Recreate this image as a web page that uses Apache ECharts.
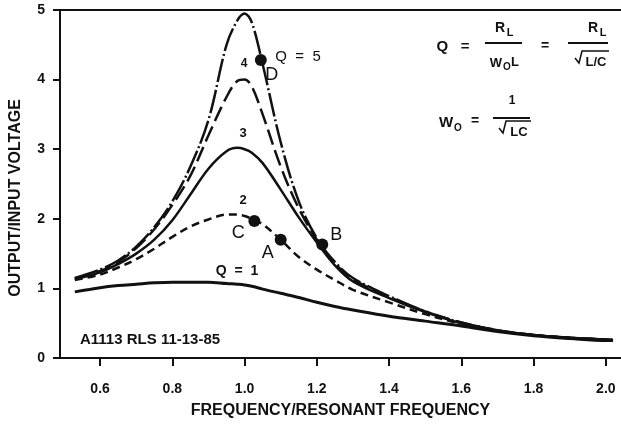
<!DOCTYPE html>
<html><head><meta charset="utf-8">
<script src="https://cdn.jsdelivr.net/npm/echarts@6/dist/echarts.min.js"></script>
<style>html,body{margin:0;padding:0;background:#fff}#c{width:621px;height:427px}</style>
</head><body><div id="c"></div>
<script>
const freq = [0.53,0.6,0.65,0.7,0.75,0.8,0.85,0.9,0.95,0.98,1.0,1.02,1.05,1.1,1.15,1.2,1.25,1.3,1.4,1.5,1.6,1.7,1.8,1.9,2.0,2.02];
const q1 = [0.95,1.01,1.04,1.06,1.08,1.09,1.09,1.09,1.07,1.06,1.05,1.03,0.99,0.93,0.87,0.80,0.74,0.69,0.60,0.53,0.46,0.38,0.32,0.28,0.25,0.25];
const q2 = [1.12,1.20,1.30,1.42,1.57,1.74,1.89,1.99,2.06,2.06,2.04,2.00,1.92,1.70,1.45,1.27,1.12,0.98,0.80,0.63,0.49,0.39,0.33,0.29,0.265,0.26];
const q3 = [1.13,1.23,1.35,1.50,1.70,1.98,2.35,2.72,2.97,3.02,3.00,2.95,2.80,2.42,2.02,1.66,1.33,1.10,0.86,0.66,0.50,0.39,0.33,0.29,0.265,0.26];
const q4 = [1.14,1.25,1.38,1.58,1.85,2.20,2.62,3.20,3.75,3.98,4.00,3.90,3.50,2.75,2.15,1.70,1.36,1.13,0.88,0.67,0.51,0.40,0.33,0.29,0.265,0.26];
const q5 = [1.15,1.27,1.40,1.60,1.88,2.25,2.75,3.42,4.50,4.85,4.95,4.82,4.22,3.10,2.25,1.72,1.38,1.15,0.89,0.67,0.51,0.40,0.33,0.29,0.265,0.26];
const pointNames = ['C','A','B','D'];
const pointX = [1.027,1.10,1.215,1.045];
const pointY = [1.97,1.70,1.63,4.28];
const xTicks = [0.6,0.8,1.0,1.2,1.4,1.6,1.8,2.0];
const yTicks = [0,1,2,3,4,5];

const FONT = '"Liberation Sans", Arial, Helvetica, sans-serif';
const INK = '#111';
const pair = (ys) => freq.map((x,i)=>[x,ys[i]]);
const lineS = (name, ys, type, w) => ({
  name, type:'line', data: pair(ys), smooth: 0.35, showSymbol:false, symbol:'none',
  lineStyle:{color:INK, width:w, type:type}, z:3, silent:true
});
const labelOffsets = {C:[-16,12], A:[-13,13], B:[14,-10], D:[11,15]};

const chart = echarts.init(document.getElementById('c'), null, {renderer:'canvas'});
const txt = (x,y,s,size,extra) => Object.assign({type:'text', x, y, style:Object.assign({text:s, font:'bold '+size+'px '+FONT, fill:INK, textAlign:'center', textVerticalAlign:'middle'}, extra||{})});
const seg = (x1,y1,x2,y2,w) => ({type:'line', shape:{x1,y1,x2,y2}, style:{stroke:INK, lineWidth:w||1.8}});
const poly = (pts) => ({type:'polyline', shape:{points:pts}, style:{stroke:INK, lineWidth:1.5, fill:null}});

chart.setOption({
  animation:false,
  backgroundColor:'#fff',
  grid:{left:60, right:0, top:10, bottom:69, containLabel:false},
  xAxis:[{
    type:'value', min:0.489, max:2.042,
    name:'FREQUENCY/RESONANT FREQUENCY', nameLocation:'middle', nameGap:45,
    nameTextStyle:{fontFamily:FONT, fontWeight:'bold', fontSize:16, color:INK},
    axisLine:{show:true, lineStyle:{color:INK, width:2}},
    axisTick:{show:true, customValues:xTicks, length:8, lineStyle:{color:INK, width:2}},
    axisLabel:{customValues:xTicks, formatter:v=>v.toFixed(1), fontFamily:FONT, fontWeight:'bold', fontSize:14, color:INK, margin:24},
    splitLine:{show:false}
  },{
    type:'value', position:'top', min:0.489, max:2.042,
    axisLine:{show:true, lineStyle:{color:INK, width:2}},
    axisTick:{show:false}, axisLabel:{show:false}, splitLine:{show:false}
  }],
  yAxis:{
    type:'value', min:0, max:5, interval:1,
    axisLine:{show:true, lineStyle:{color:INK, width:2}},
    axisTick:{show:true, length:7, lineStyle:{color:INK, width:2}},
    axisLabel:{fontFamily:FONT, fontWeight:'bold', fontSize:14, color:INK, margin:15},
    splitLine:{show:false}
  },
  series:[
    lineS('Q=1', q1, 'solid', 3),
    lineS('Q=2', q2, [8,5], 2.5),
    lineS('Q=3', q3, 'solid', 2.5),
    lineS('Q=4', q4, [16,6], 2.5),
    lineS('Q=5', q5, [24,3,2,3], 2.5),
    {
      type:'scatter', symbol:'circle', symbolSize:12, z:5, silent:true,
      itemStyle:{color:INK, opacity:1},
      data: pointNames.map((n,i)=>({value:[pointX[i],pointY[i]], name:n,
        label:{show:true, formatter:n, position:'inside', offset:labelOffsets[n], fontFamily:FONT, fontSize:18, color:INK, opacity:1}}))
    }
  ],
  graphic:[
    {type:'text', x:16, y:198, rotation:Math.PI/2, style:{text:'OUTPUT/INPUT VOLTAGE', font:'bold 16px '+FONT, fill:INK, textAlign:'center', textVerticalAlign:'middle'}},
    // curve annotations
    txt(298,57,'Q  =  5',15,{font:'15px '+FONT}),
    txt(244,64,'4',12),
    txt(243,133,'3',13),
    txt(243,200,'2',13),
    txt(237,271,'Q  =  1',14),
    {type:'text', x:80, y:340, style:{text:'A1113 RLS 11-13-85', font:'bold 15px '+FONT, fill:INK, textAlign:'left', textVerticalAlign:'middle'}},
    // formula Q
    txt(453,47,'Q   =',15),
    txt(500,28,'R',14), txt(510,33,'L',11),
    seg(485,43,522,43),
    txt(496,63,'W',13), txt(507,67,'O',10), txt(515,62,'L',13),
    txt(545,46,'=',14),
    txt(593,28,'R',14), txt(603,33,'L',11),
    seg(568,43,608,43),
    poly([[575,58],[579,63],[582,51],[609,51]]),
    txt(596,62,'L/C',13),
    // formula Wo
    txt(446,123,'W',15), txt(458,128,'O',10),
    txt(475,121,'=',14),
    txt(512,101,'1',12),
    seg(493,118,530,118),
    poly([[499,128],[503,133],[506,121],[531,121]]),
    txt(519,132,'LC',13)
  ]
});
</script></body></html>
